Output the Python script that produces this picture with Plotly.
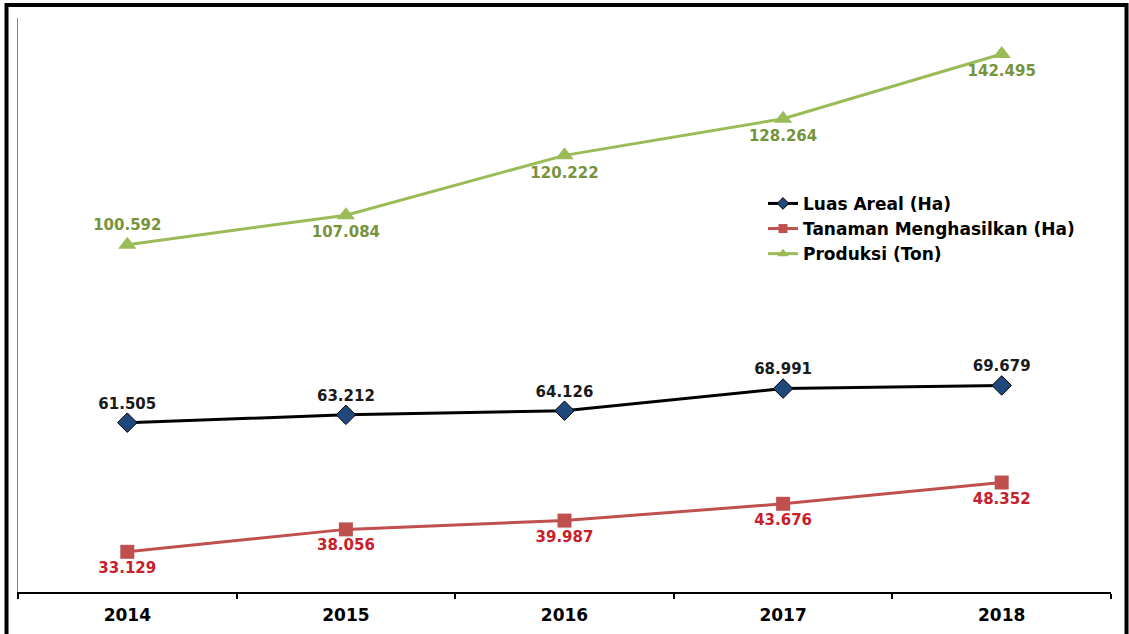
import plotly.graph_objects as go

years = ["2014", "2015", "2016", "2017", "2018"]
luas_areal = [61.505, 63.212, 64.126, 68.991, 69.679]
tanaman_menghasilkan = [33.129, 38.056, 39.987, 43.676, 48.352]
produksi = [100.592, 107.084, 120.222, 128.264, 142.495]

series_names = ["Luas Areal (Ha)", "Tanaman Menghasilkan (Ha)", "Produksi (Ton)"]

luas_text = [f"{v:.3f}" for v in luas_areal]
tanaman_text = [f"{v:.3f}" for v in tanaman_menghasilkan]
produksi_text = [f"{v:.3f}" for v in produksi]

label_font = dict(family="DejaVu Sans", size=15)

styles = [
    dict(line=dict(color="#000000", width=3),
         marker=dict(symbol="diamond", size=15, color="#1F497D",
                     line=dict(color="#000000", width=1)),
         legend_marker=dict(symbol="diamond", size=9, color="#1F497D",
                            line=dict(color="#000000", width=1))),
    dict(line=dict(color="#C0504D", width=3),
         marker=dict(symbol="square", size=14, color="#C0504D"),
         legend_marker=dict(symbol="square", size=9, color="#C0504D")),
    dict(line=dict(color="#9BBB59", width=3),
         marker=dict(symbol="triangle-up", size=16, color="#9BBB59"),
         legend_marker=dict(symbol="triangle-up", size=10, color="#9BBB59")),
]

fig = go.Figure()

fig.add_trace(go.Scatter(
    x=years, y=luas_areal, name=series_names[0], showlegend=False,
    mode="lines+markers+text",
    line=styles[0]["line"], marker=styles[0]["marker"],
    text=luas_text, textposition="top center",
    textfont=dict(color="#1a1a1a", **label_font),
    texttemplate="<b>%{text}</b>",
))

fig.add_trace(go.Scatter(
    x=years, y=tanaman_menghasilkan, name=series_names[1], showlegend=False,
    mode="lines+markers+text",
    line=styles[1]["line"], marker=styles[1]["marker"],
    text=tanaman_text, textposition="bottom center",
    textfont=dict(color="#C8202A", **label_font),
    texttemplate="<b>%{text}</b>",
))

fig.add_trace(go.Scatter(
    x=years, y=produksi, name=series_names[2], showlegend=False,
    mode="lines+markers+text",
    line=styles[2]["line"], marker=styles[2]["marker"],
    text=produksi_text,
    textposition=["top center", "bottom center", "bottom center",
                  "bottom center", "bottom center"],
    textfont=dict(color="#77933C", **label_font),
    texttemplate="<b>%{text}</b>",
))

# Legend entries with smaller symbols than the plotted markers
for name, st in zip(series_names, styles):
    fig.add_trace(go.Scatter(
        x=[None], y=[None], name=f"<b>{name}</b>",
        mode="lines+markers", line=st["line"], marker=st["legend_marker"],
        hoverinfo="skip",
    ))

# Outer frame (open at the bottom)
fig.add_shape(
    type="path", xref="paper", yref="paper",
    path="M -0.0105,-0.2 L -0.0105,1.0226 L 1.0142,1.0226 L 1.0142,-0.2",
    line=dict(color="#000000", width=4),
)

fig.update_layout(
    width=1129, height=634,
    margin=dict(l=18, r=18, t=18, b=42),
    paper_bgcolor="white", plot_bgcolor="white",
    showlegend=True,
    legend=dict(
        x=0.6816, y=0.7075, xanchor="left", yanchor="top",
        font=dict(family="DejaVu Sans", size=17, color="#000000"),
        bgcolor="rgba(0,0,0,0)", tracegroupgap=0,
    ),
    xaxis=dict(
        type="category", range=[-0.5, 4.5], autorange=False,
        tickson="boundaries", ticks="outside",
        ticklen=5, tickwidth=2, tickcolor="#000000",
        showline=True, linecolor="#000000", linewidth=2,
        showgrid=False, zeroline=False, automargin=False,
        tickfont=dict(family="DejaVu Sans", size=17, color="#000000"),
        ticklabelstandoff=7,
        tickprefix="<b>", ticksuffix="</b>",
    ),
    yaxis=dict(
        range=[24.3, 150.4], autorange=False,
        showticklabels=False, ticks="",
        showgrid=False, zeroline=False, automargin=False,
        showline=True, linecolor="#888888", linewidth=1,
    ),
)

fig.write_html("out.html")
